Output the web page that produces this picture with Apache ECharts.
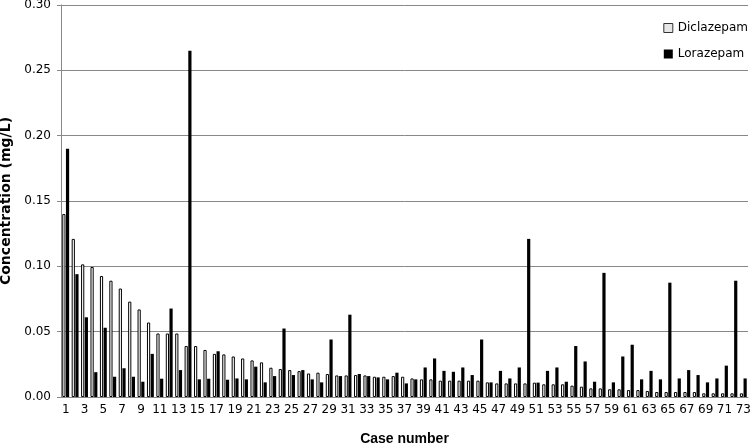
<!DOCTYPE html>
<html>
<head>
<meta charset="utf-8">
<script src="https://cdn.jsdelivr.net/npm/echarts@6/dist/echarts.min.js"></script>
<style>
  html, body { margin: 0; padding: 0; background: #fff; }
  #chart { width: 753px; height: 444px; }
</style>
</head>
<body>
<div id="chart"></div>
<script>
// case numbers 1..73
const cases = []
for (let i = 1; i <= 73; i++) cases.push(String(i))

// Diclazepam concentrations (mg/L)
const diclazepam = [
  0.140, 0.121, 0.1015, 0.0995, 0.0926, 0.089, 0.083, 0.073, 0.067, 0.057,
  0.0486, 0.0486, 0.0486, 0.039, 0.039, 0.036, 0.033, 0.0326, 0.031, 0.0295,
  0.028, 0.0265, 0.0224, 0.0214, 0.0206, 0.0198, 0.018, 0.0186, 0.0176, 0.0165,
  0.0165, 0.0168, 0.0165, 0.0155, 0.0155, 0.016, 0.0155, 0.0142, 0.0135, 0.0135,
  0.0125, 0.0125, 0.0125, 0.0125, 0.0125, 0.0112, 0.0104, 0.0104, 0.0104, 0.0104,
  0.011, 0.0097, 0.0097, 0.0097, 0.0087, 0.0079, 0.0066, 0.0066, 0.0059, 0.0059,
  0.0053, 0.0053, 0.0046, 0.0038, 0.0038, 0.0038, 0.0038, 0.0038, 0.0028, 0.0028,
  0.0028, 0.0028, 0.0028
]

// Lorazepam concentrations (mg/L)
const lorazepam = [
  0.190, 0.094, 0.061, 0.019, 0.053, 0.0155, 0.022, 0.0155, 0.0117, 0.033,
  0.014, 0.0677, 0.0206, 0.265, 0.0135, 0.014, 0.035, 0.0132, 0.0142, 0.0135,
  0.0232, 0.0112, 0.016, 0.0524, 0.0168, 0.0206, 0.0135, 0.0112, 0.044, 0.016,
  0.063, 0.0176, 0.016, 0.015, 0.0135, 0.0186, 0.0104, 0.0135, 0.0226, 0.0295,
  0.020, 0.0193, 0.0226, 0.0168, 0.044, 0.0112, 0.020, 0.0142, 0.0226, 0.121,
  0.011, 0.020, 0.0226, 0.0117, 0.039, 0.0272, 0.0117, 0.095, 0.0112, 0.031,
  0.040, 0.0135, 0.020, 0.0135, 0.0875, 0.0142, 0.0206, 0.0168, 0.0112, 0.0142,
  0.024, 0.089, 0.0142
]

const font = 'DejaVu Sans'

let myChart = echarts.init(document.getElementById('chart'))
myChart.setOption({
  animation: false,
  backgroundColor: '#fff',
  textStyle: {fontFamily: font},
  grid: {left: 61, right: 5, top: 5, bottom: 47, containLabel: false, outerBoundsMode: 'none'},
  legend: {
    orient: 'vertical',
    right: 0,
    top: 17,
    itemWidth: 9,
    itemHeight: 9,
    itemGap: 14,
    textStyle: {fontFamily: font, fontSize: 12, color: '#000'},
    data: [
      {name: 'Diclazepam', icon: 'rect', itemStyle: {color: '#e6e6e6', borderColor: '#333', borderWidth: 1}},
      {name: 'Lorazepam', icon: 'rect'}
    ]
  },
  xAxis: {
    type: 'category',
    data: cases,
    name: 'Case number',
    nameLocation: 'middle',
    nameGap: 35,
    nameTextStyle: {fontFamily: 'Liberation Sans', fontSize: 14, fontWeight: 'bold', color: '#000'},
    axisLine: {lineStyle: {color: '#888'}},
    axisTick: {show: false},
    axisLabel: {interval: 1, fontSize: 12, color: '#000', margin: 7}
  },
  yAxis: {
    type: 'value',
    min: 0,
    max: 0.30,
    interval: 0.05,
    name: 'Concentration (mg/L)',
    nameLocation: 'middle',
    nameGap: 35,
    nameTextStyle: {fontFamily: font, fontSize: 14, fontWeight: 'bold', color: '#000'},
    axisLine: {show: true, lineStyle: {color: '#888'}},
    axisTick: {show: true, length: 4, lineStyle: {color: '#888'}},
    axisLabel: {fontSize: 12, color: '#000', margin: 10, formatter: function (v) { return v.toFixed(2) }},
    splitLine: {lineStyle: {color: '#888', width: 1}}
  },
  series: [
    {
      name: 'Diclazepam',
      type: 'bar',
      data: diclazepam,
      barWidth: '34%',
      barGap: '15%',
      itemStyle: {color: '#fff', borderColor: '#000', borderWidth: 1}
    },
    {
      name: 'Lorazepam',
      type: 'bar',
      data: lorazepam,
      barWidth: '34%',
      itemStyle: {color: '#000'}
    }
  ]
})
</script>
</body>
</html>
